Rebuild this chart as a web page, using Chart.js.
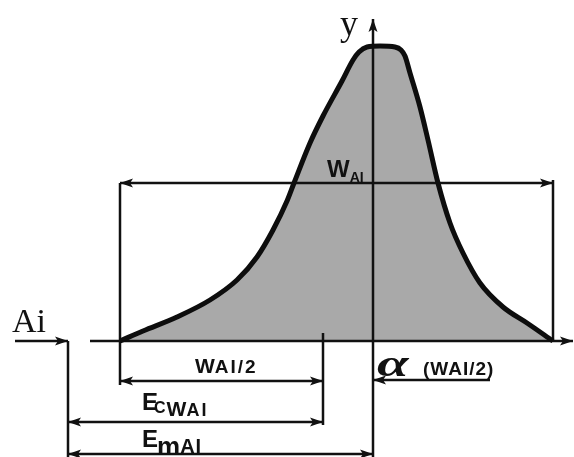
<!DOCTYPE html>
<html>
<head>
<meta charset="utf-8">
<script src="https://cdn.jsdelivr.net/npm/chart.js@4.4.1/dist/chart.umd.min.js"></script>
<style>
  html, body { margin: 0; padding: 0; background: #fff; }
  canvas { display: block; }
</style>
</head>
<body>
<canvas id="peakChart" width="574" height="457"></canvas>
<script>
// peak profile : x measured from the y axis, y measured above the Ai baseline
const curveX = [-253, -230, -196, -163, -136, -116, -100, -86, -79, -63, -50, -31, -20, -14, -6, 7, 22, 28, 32, 37, 47, 55, 65, 77, 90, 107, 130, 154, 180];
const curveY = [0, 10, 24, 41, 61, 84, 111, 140, 158, 198, 225, 260, 281, 289, 294, 295, 294, 291, 285, 268, 234, 201, 158, 118, 88, 58, 34, 18, 0];

// guide / dimension lines : [x1, y1, x2, y2, head at start, head at end]
const segments = [
  [-283, 0, 200, 0, false, true],       // baseline
  [0, -116, 0, 322, false, true],       // y axis
  [-358, 0, -305, 0, false, true],      // Ai
  [-305, 0, -305, -116, false, false],
  [-253, 158, -253, -44, false, false],
  [180, 161, 180, 0, false, false],
  [-50, 8, -50, -84, false, false],
  [-253, 158, 180, 158, true, true],    // W_AI
  [-253, -40, -50, -40, true, true],    // W_AI/2
  [0, -39, 117, -39, true, false],      // alpha
  [-305, -81, -50, -81, true, true],    // Ec W_AI
  [-305, -113, 0, -113, true, true],    // Em_AI
];

const SANS = '"Liberation Sans", Arial, sans-serif';
const SERIF = '"Liberation Serif", "DejaVu Serif", serif';

// arrow head image, tip in the middle of the canvas pointing up
function makeHead() {
  const c = document.createElement('canvas');
  c.width = 10; c.height = 28;
  const g = c.getContext('2d');
  g.fillStyle = '#111';
  g.beginPath();
  g.moveTo(5, 14);
  g.lineTo(9.5, 27);
  g.lineTo(5, 24);
  g.lineTo(0.5, 27);
  g.closePath();
  g.fill();
  return c;
}
const head = makeHead();

const datasets = [{
  data: curveX.map((x, i) => ({ x: x, y: curveY[i] })),
  borderColor: '#0d0d0d',
  borderWidth: 5,
  backgroundColor: '#a9a9a9',
  fill: 'origin',
  cubicInterpolationMode: 'monotone',
  pointRadius: 0,
  order: 0,
  clip: false
}];

segments.forEach(s => {
  const ang = Math.atan2(s[2] - s[0], s[3] - s[1]) * 180 / Math.PI;
  datasets.push({
    data: [{ x: s[0], y: s[1] }, { x: s[2], y: s[3] }],
    borderColor: '#111',
    borderWidth: 2.5,
    fill: false,
    pointStyle: head,
    pointRadius: [s[4] ? 5 : 0, s[5] ? 5 : 0],
    pointRotation: [ang + 180, ang],
    order: 1,
    clip: false
  });
});

// text parts: [text, font, baseline shift, x shift, letter spacing, x stretch]
const labelPlugin = {
  id: 'labels',
  afterDraw(chart) {
    const ctx = chart.ctx;
    const xs = chart.scales.x, ys = chart.scales.y;
    const items = [
      { x: -33, y: 306, parts: [['y', '36px ' + SERIF]] },
      { x: -361, y: 9, parts: [['Ai', '34px ' + SERIF]] },
      { x: -46, y: 164, parts: [['W', 'bold 24px ' + SANS], ['AI', 'bold 14px ' + SANS, 5]] },
      { x: -178, y: -32, parts: [['W', 'bold 21px ' + SANS], ['AI/2', 'bold 19px ' + SANS, 0, 0, 2]] },
      { x: -231, y: -69, parts: [['E', 'bold 24px ' + SANS], ['C', 'bold 16px ' + SANS, 3, -4], ['W', 'bold 21px ' + SANS, 6, 1], ['AI', 'bold 18px ' + SANS, 6, 0, 2]] },
      { x: -231, y: -106, parts: [['E', 'bold 24px ' + SANS], ['m', 'bold 26px ' + SANS, 8, -1], ['AI', 'bold 20px ' + SANS, 6, 0, 1]] },
      { x: 4, y: -35, parts: [['α', 'bold italic 38px ' + SERIF, 0, 0, 0, 1.5]] },
      { x: 50, y: -34, parts: [['(WAI/2)', 'bold 19px ' + SANS, 0, 0, 1]] },
    ];
    ctx.save();
    ctx.fillStyle = '#111';
    ctx.textBaseline = 'alphabetic';
    items.forEach(it => {
      let px = xs.getPixelForValue(it.x);
      const py = ys.getPixelForValue(it.y);
      it.parts.forEach(p => {
        const dy = p[2] || 0, dx = p[3] || 0, ls = p[4] || 0, sx = p[5] || 1;
        ctx.font = p[1];
        ctx.letterSpacing = ls + 'px';
        px += dx;
        ctx.save();
        ctx.translate(px, py + dy);
        ctx.scale(sx, 1);
        ctx.fillText(p[0], 0, 0);
        ctx.restore();
        px += ctx.measureText(p[0]).width * sx;
      });
    });
    ctx.restore();
  }
};

new Chart(document.getElementById('peakChart'), {
  type: 'line',
  data: { datasets: datasets },
  options: {
    responsive: false,
    animation: false,
    layout: { padding: 0, autoPadding: false },
    plugins: {
      legend: { display: false },
      tooltip: { enabled: false },
      filler: { drawTime: 'beforeDatasetsDraw' }
    },
    scales: {
      x: { type: 'linear', min: -373, max: 201, display: false },
      y: { type: 'linear', min: -116, max: 341, display: false }
    }
  },
  plugins: [labelPlugin]
});
</script>
</body>
</html>
